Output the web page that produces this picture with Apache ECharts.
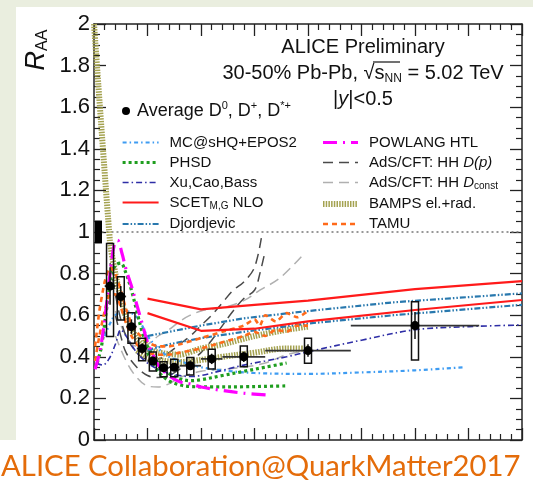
<!DOCTYPE html>
<html><head><meta charset="utf-8">
<script src="https://cdn.jsdelivr.net/npm/echarts@6/dist/echarts.min.js"></script>
<style>html,body{margin:0;padding:0;background:#fff}#c{width:533px;height:481px}</style>
</head><body><div id="c"></div>
<script>
// ---- measured data (ALICE D-meson R_AA, 30-50%) ----
const ptCenter = [1.5, 2.5, 3.5, 4.5, 5.5, 6.5, 7.5, 9, 11, 14, 20, 30];
const ptLow    = [1, 2, 3, 4, 5, 6, 7, 8, 10, 12, 16, 24];
const ptHigh   = [2, 3, 4, 5, 6, 7, 8, 10, 12, 16, 24, 36];
const raaValue = [0.74, 0.69, 0.545, 0.44, 0.38, 0.347, 0.35, 0.357, 0.39, 0.40, 0.43, 0.55];
const raaStat  = [0.09, 0.05, 0.035, 0.025, 0.02, 0.02, 0.02, 0.02, 0.025, 0.025, 0.03, 0.065];
const raaSysLo = [0.497, 0.577, 0.465, 0.381, 0.332, 0.304, 0.304, 0.312, 0.341, 0.352, 0.369, 0.385];
const raaSysHi = [0.945, 0.785, 0.612, 0.489, 0.423, 0.376, 0.388, 0.397, 0.436, 0.452, 0.489, 0.665];
const normUnc  = [0.945, 1.055];

// ---- model curves [pT, RAA] ----
const mcShq = [[1,0.5],[1.5,0.56],[2,0.6],[3,0.62],[4,0.59],[4.5,0.55],[5,0.5],[6,0.44],[7,0.4],[8,0.38],[10,0.35],[12,0.335],[15,0.322],[20,0.318],[25,0.325],[30,0.335],[34.7,0.35]];
const phsdHi = [[0.3,0.37],[0.7,0.45],[1.2,0.64],[1.6,0.78],[2,0.84],[2.5,0.85],[3,0.8],[3.5,0.72],[4,0.62],[4.5,0.52],[5,0.45],[6,0.37],[7,0.32],[8,0.295],[9,0.285],[10,0.29],[12,0.31],[14,0.33],[16,0.35],[18,0.37]];
const phsdLo = [[5,0.42],[6,0.33],[7,0.285],[8,0.265],[9,0.257],[11,0.255],[14,0.256],[16,0.258],[18,0.26]];
const xuCaoBass = [[0.2,0.37],[0.8,0.36],[1.4,0.39],[2,0.46],[2.5,0.53],[3,0.5],[4,0.42],[5,0.37],[6,0.34],[7,0.32],[8,0.31],[9,0.305],[10,0.31],[12,0.335],[14,0.36],[16,0.38],[18,0.4],[20,0.424],[25,0.48],[30,0.53],[35,0.545],[40,0.553]];
const scetHi = [[5,0.68],[10,0.628],[15,0.65],[20,0.67],[30,0.725],[40,0.764]];
const scetLo = [[5,0.61],[10,0.525],[15,0.535],[20,0.57],[30,0.625],[40,0.673]];
const djordjHi = [[5,0.5],[7,0.52],[10,0.55],[14,0.585],[20,0.62],[28,0.662],[40,0.705]];
const djordjLo = [[5,0.43],[7,0.46],[10,0.49],[14,0.52],[20,0.56],[28,0.6],[40,0.65]];
const powlang = [[0.1,0.34],[0.6,0.44],[1.1,0.62],[1.5,0.8],[1.9,0.94],[2.2,0.96],[2.6,0.9],[3,0.82],[3.5,0.74],[4,0.65],[4.5,0.56],[5,0.47],[5.5,0.41],[6,0.36],[7,0.31],[8,0.28],[9,0.27],[10,0.255],[12,0.238],[14,0.225],[16.5,0.215]];
const adsDp1 = [[1.5,0.85],[2,0.7],[2.5,0.58],[3,0.5],[4,0.42],[5,0.39],[6,0.39],[7,0.42],[8,0.46],[9,0.5],[10,0.55],[11,0.6],[12,0.66],[13,0.72],[14,0.76],[15,0.83],[15.7,0.99]];
const adsDp2 = [[2,0.6],[2.5,0.5],[3,0.42],[4,0.35],[5,0.31],[6,0.3],[7,0.31],[8,0.34],[9,0.38],[10,0.42],[11,0.48],[12,0.55],[13,0.62],[14,0.68],[15,0.72],[15.5,0.8],[16,0.91]];
const adsDc1 = [[2,0.62],[3,0.5],[4,0.45],[5,0.46],[6,0.5],[7,0.53],[8,0.57],[9,0.6],[10,0.62],[11,0.63],[12,0.635],[14,0.67],[15.5,0.72],[17.4,0.78],[19.7,0.9]];
const adsDc2 = [[2,0.5],[3,0.38],[4,0.3],[5,0.26],[6,0.255],[7,0.27],[8,0.3],[10,0.33],[12,0.34],[14,0.35],[16,0.37],[18,0.41],[20,0.43]];
const bampsHi = [[0,2.0],[1.5,0.95],[2,0.8],[2.5,0.68],[3,0.59],[4,0.49],[5,0.44],[6,0.42],[8,0.41],[10,0.44],[12,0.46],[15,0.5],[18,0.53],[20,0.545]];
const bampsLo = [[4,0.43],[5,0.4],[6,0.385],[8,0.375],[10,0.385],[12,0.4],[15,0.42],[18,0.44],[20,0.44]];
const tamuHi = [[0.1,0.45],[0.5,0.62],[1,0.76],[1.5,0.83],[2,0.8],[2.5,0.72],[3,0.63],[3.5,0.56],[4,0.52],[5,0.47],[6,0.45],[7,0.45],[8,0.46],[10,0.49],[12,0.52],[14,0.55],[15,0.58],[15.5,0.55],[16,0.6],[17,0.57],[18,0.61],[19,0.59],[20,0.62]];
const tamuLo = [[0.1,0.38],[0.5,0.5],[1,0.62],[1.5,0.7],[2,0.7],[2.5,0.64],[3,0.56],[3.5,0.5],[4,0.46],[5,0.42],[6,0.41],[7,0.41],[8,0.42],[10,0.44],[12,0.47],[14,0.5],[15,0.52],[16,0.5],[17,0.53],[18,0.52],[19,0.55],[20,0.55]];
const unityLine = [[0.7,1],[40,1]];

const xTicks = {min:0, max:40, interval:5};
const yTicks = {min:0, max:2, interval:0.2};

const FONT = 'Liberation Sans';
const GREEN = '#eaeedf';

function lineSeries(name, data, color, width, type, smooth) {
  return {type:'line', name:name, data:data, symbol:'none', smooth:smooth===undefined?0.35:smooth,
    lineStyle:{color:color, width:width, type:type}, itemStyle:{color:color}, z:3, silent:true, clip:true};
}

const S = {
  mc:  ['MC@sHQ+EPOS2', '#3e9cf2', 2.2, [4,3,1.5,3]],
  ph:  ['PHSD', '#1f9e1f', 3.2, [3,3]],
  xu:  ['Xu,Cao,Bass', '#2e2ea6', 1.6, [6,3,1.5,3]],
  sc:  ['SCET', '#ff1a1a', 2.2, 'solid'],
  dj:  ['Djordjevic', '#2878ae', 2.2, [6,2,1.5,2,1.5,2]],
  pw:  ['POWLANG HTL', '#ff00ff', 3.2, [14,6,2,6]],
  ad1: ['AdSDp', '#4a4a4a', 1.5, [10,6]],
  ad2: ['AdSDc', '#b0b0b0', 1.5, [10,6]],
  ba:  ['BAMPS el.+rad.', '#a4a250', 6, [1.5,1.2]],
  ta:  ['TAMU', '#ff6a1a', 2.6, [5,4]]
};
function mk(k, data, smooth){ const s=S[k]; return lineSeries(s[0], data, s[1], s[2], s[3], smooth); }

const labelMap = {
  'SCET': '{n|SCET}{s|M,G}{n| NLO}',
  'AdSDp': '{n|AdS/CFT: HH }{i|D(p)}',
  'AdSDc': '{n|AdS/CFT: HH }{i|D}{s|const}'
};
const legendText = {fontSize:15, fontFamily:FONT, color:'#111', padding:[0,0,0,6],
  rich:{n:{fontSize:15, fontFamily:FONT, color:'#111', lineHeight:18},
        i:{fontSize:15, fontFamily:FONT, fontStyle:'italic', color:'#111', lineHeight:18},
        s:{fontSize:10, fontFamily:FONT, color:'#111', verticalAlign:'bottom', lineHeight:18, padding:[6,0,0,0]}}};
function fmt(name){ return labelMap[name] || ('{n|' + name + '}'); }

const dataRows = ptCenter.map((p,i)=>[p, raaValue[i], raaStat[i], raaSysLo[i], raaSysHi[i], ptLow[i], ptHigh[i]]);

const axisCommon = {
  axisLine:{show:true, onZero:false, lineStyle:{color:'#222', width:1.5}},
  axisTick:{show:true, inside:true, length:12, lineStyle:{color:'#222', width:1.3}},
  splitLine:{show:false}
};
const legendCommon = {orient:'vertical', itemHeight:14, itemGap:5, padding:0, selectedMode:false,
  itemStyle:{opacity:0}, lineStyle:{width:'inherit'}, textStyle:legendText, formatter:fmt};
const option = {
  backgroundColor:'#fff',
  animation:false,
  grid:{left:94, right:11, top:24, bottom:41},
  xAxis:[
    Object.assign({type:'value', min:xTicks.min, max:xTicks.max, interval:xTicks.interval, position:'bottom',
     minorTick:{show:true, splitNumber:5, length:6, lineStyle:{color:'#222', width:1.2}}, axisLabel:{show:false}}, axisCommon),
    Object.assign({type:'value', min:xTicks.min, max:xTicks.max, interval:xTicks.interval, position:'top',
     minorTick:{show:true, splitNumber:5, length:6, lineStyle:{color:'#222', width:1.2}}, axisLabel:{show:false}}, axisCommon)
  ],
  yAxis:[
    Object.assign({type:'value', min:yTicks.min, max:yTicks.max, interval:yTicks.interval, position:'left',
     minorTick:{show:true, splitNumber:4, length:6, lineStyle:{color:'#222', width:1.2}},
     axisLabel:{show:true, fontSize:22, fontFamily:FONT, color:'#111', margin:4}}, axisCommon),
    Object.assign({type:'value', min:yTicks.min, max:yTicks.max, interval:yTicks.interval, position:'right',
     minorTick:{show:true, splitNumber:4, length:6, lineStyle:{color:'#222', width:1.2}}, axisLabel:{show:false}}, axisCommon)
  ],
  legend:[
    Object.assign({data:[S.mc[0],S.ph[0],S.xu[0],S.sc[0],S.dj[0]], left:121, top:135, itemWidth:36}, legendCommon),
    Object.assign({data:[S.pw[0],S.ad1[0],S.ad2[0],S.ba[0],S.ta[0]], left:320, top:135, itemWidth:35}, legendCommon)
  ],
  series:[
    {type:'line', name:'unity', data:unityLine, symbol:'none', lineStyle:{color:'#777', width:1.3, type:[2,3]}, z:1, silent:true},
    mk('ad2', adsDc1), mk('ad2', adsDc2),
    mk('ad1', adsDp1), mk('ad1', adsDp2),
    mk('ba', bampsHi, 0.2), mk('ba', bampsLo),
    mk('mc', mcShq),
    mk('ph', phsdHi), mk('ph', phsdLo),
    mk('xu', xuCaoBass),
    mk('dj', djordjHi, false), mk('dj', djordjLo, false),
    mk('ta', tamuHi, 0.2), mk('ta', tamuLo, 0.2),
    mk('pw', powlang),
    mk('sc', scetHi, false), mk('sc', scetLo, false),
    {type:'custom', name:'norm', data:[normUnc], z:8, silent:true,
     renderItem:function(params, api){
       const lo = api.coord([0, api.value(0)]), hi = api.coord([0, api.value(1)]);
       return {type:'rect', shape:{x:lo[0]+1, y:hi[1], width:7, height:lo[1]-hi[1]}, style:{fill:'#000'}};
     }},
    {type:'custom', name:'data', data:dataRows, z:10, silent:true,
     renderItem:function(params, api){
       const x=api.value(0), y=api.value(1), st=api.value(2), slo=api.value(3), shi=api.value(4), xl=api.value(5), xh=api.value(6);
       const c=api.coord([x,y]), pl=api.coord([x,slo]), ph=api.coord([x,shi]);
       const a=api.coord([xl,y]), b=api.coord([xh,y]);
       const t=api.coord([x,y+st]), d=api.coord([x,y-st]);
       const hw=3.5;
       return {type:'group', children:[
         {type:'line', shape:{x1:a[0], y1:c[1], x2:b[0], y2:c[1]}, style:{stroke:'#333', lineWidth:1.8}},
         {type:'rect', shape:{x:c[0]-hw, y:ph[1], width:2*hw, height:pl[1]-ph[1]}, style:{fill:null, stroke:'#111', lineWidth:1.5}},
         {type:'line', shape:{x1:c[0], y1:t[1], x2:c[0], y2:d[1]}, style:{stroke:'#111', lineWidth:1.5}},
         {type:'circle', shape:{cx:c[0], cy:c[1], r:4.5}, style:{fill:'#000'}}
       ]};
     }}
  ],
  graphic:[
    {type:'rect', shape:{x:0,y:0,width:533,height:7}, style:{fill:GREEN}, silent:true},
    {type:'rect', shape:{x:0,y:0,width:16,height:440}, style:{fill:GREEN}, silent:true},
    {type:'text', x:36, y:50, rotation:Math.PI/2, silent:true,
     style:{text:'{r|R}{s|AA}', align:'center', verticalAlign:'middle',
       rich:{r:{fontSize:27, fontFamily:FONT, fontStyle:'italic', fill:'#111', lineHeight:30},
             s:{fontSize:16, fontFamily:FONT, fill:'#111', verticalAlign:'bottom', lineHeight:30, padding:[10,0,0,0]}}}},
    {type:'text', x:363, y:47, silent:true,
     style:{text:'ALICE Preliminary', fontSize:20, fontFamily:FONT, fill:'#111', align:'center', verticalAlign:'middle'}},
    {type:'text', x:363, y:73, silent:true,
     style:{text:'{n|30-50% Pb-Pb, √s}{s|NN}{n| = 5.02 TeV}', align:'center', verticalAlign:'middle',
       rich:{n:{fontSize:20, fontFamily:FONT, fill:'#111', lineHeight:24},
             s:{fontSize:12, fontFamily:FONT, fill:'#111', verticalAlign:'bottom', lineHeight:24, padding:[8,0,0,0]}}}},
    {type:'line', shape:{x1:373, y1:62, x2:400, y2:62}, style:{stroke:'#111', lineWidth:1.2}, silent:true},
    {type:'text', x:363, y:99, silent:true,
     style:{text:'{n||}{i|y}{n||<0.5}', align:'center', verticalAlign:'middle',
       rich:{n:{fontSize:20, fontFamily:FONT, fill:'#111'}, i:{fontSize:20, fontFamily:FONT, fontStyle:'italic', fill:'#111'}}}},
    {type:'circle', shape:{cx:126, cy:111, r:4}, style:{fill:'#000'}, silent:true},
    {type:'text', x:137, y:111, silent:true,
     style:{text:'{n|Average D}{p|0}{n|, D}{p|+}{n|, D}{p|*+}', align:'left', verticalAlign:'middle',
       rich:{n:{fontSize:18, fontFamily:FONT, fill:'#111', lineHeight:22},
             p:{fontSize:11, fontFamily:FONT, fill:'#111', verticalAlign:'top', lineHeight:22, padding:[0,0,8,0]}}}},
    {type:'text', x:1, y:467, silent:true,
     style:{text:'ALICE Collaboration@QuarkMatter2017', fontSize:29.3, fontFamily:'Lato', fill:'#e46c0a', align:'left', verticalAlign:'middle'}}
  ]
};
const chart = echarts.init(document.getElementById('c'), null, {renderer:'canvas'});
chart.setOption(option);
</script></body></html>
